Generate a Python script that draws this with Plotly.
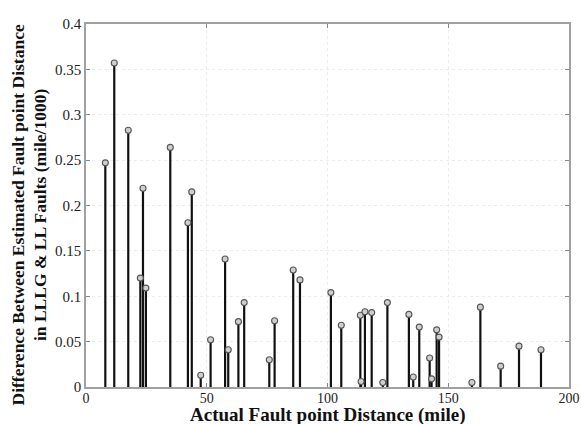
import plotly.graph_objects as go

distance = [8.0, 11.7, 17.5, 22.5, 23.6, 24.8, 34.9, 42.2, 43.8, 47.5, 51.6, 57.6, 58.9,
            63.1, 65.5, 75.9, 78.1, 85.8, 88.6, 101.4, 105.7, 113.6, 113.9, 115.5, 118.3,
            122.9, 124.8, 133.7, 135.5, 138.0, 142.3, 143.1, 145.2, 146.2, 159.8, 163.3,
            171.7, 179.3, 188.4]
difference = [0.247, 0.357, 0.283, 0.120, 0.219, 0.109, 0.264, 0.181, 0.215, 0.013, 0.052,
              0.141, 0.041, 0.072, 0.093, 0.030, 0.073, 0.129, 0.118, 0.104, 0.068, 0.079,
              0.006, 0.083, 0.082, 0.005, 0.093, 0.080, 0.011, 0.066, 0.032, 0.009, 0.063,
              0.055, 0.005, 0.088, 0.023, 0.045, 0.041]

x_ticks = [0, 50, 100, 150, 200]
y_ticks = [0, 0.05, 0.1, 0.15, 0.2, 0.25, 0.3, 0.35, 0.4]
y_tick_labels = ["0", "0.05", "0.1", "0.15", "0.2", "0.25", "0.3", "0.35", "0.4"]
x_title = "Actual Fault point Distance (mile)"
y_title = "Difference Between Estimated Fault point Distance<br>in LLLG &amp; LL Faults (mile/1000)"

sx, sy = [], []
for xv, yv in zip(distance, difference):
    sx += [xv, xv, None]
    sy += [0, yv, None]

fig = go.Figure()
fig.add_trace(go.Scatter(x=sx, y=sy, mode="lines",
                         line=dict(color="#111111", width=2.2), hoverinfo="skip",
                         showlegend=False))
fig.add_trace(go.Scatter(x=distance, y=difference, mode="markers",
                         marker=dict(symbol="circle", size=6, color="#cfcfcf",
                                     line=dict(color="#555555", width=1.1)),
                         showlegend=False))

ff = "Liberation Serif"
fig.update_layout(
    width=581, height=424,
    margin=dict(l=86, r=12, t=24, b=37),
    paper_bgcolor="white", plot_bgcolor="white",
    font=dict(family=ff, size=15, color="#222222"),
    xaxis=dict(range=[0, 200], tickvals=x_ticks, ticks="inside", ticklen=4,
               tickcolor="#888888", showline=True, linecolor="#a0a0a0", linewidth=1.5,
               mirror="ticks", showgrid=True, gridcolor="#ececec", griddash="dot",
               zeroline=False, automargin=False, ticklabelstandoff=-3,
               tickfont=dict(family=ff, size=14, color="#222222")),
    yaxis=dict(range=[0, 0.4], tickvals=y_ticks, ticktext=y_tick_labels, ticks="inside",
               ticklen=4, tickcolor="#888888", showline=True, linecolor="#a0a0a0",
               linewidth=1.5, mirror="ticks", showgrid=True, gridcolor="#ececec",
               griddash="dot", zeroline=False, automargin=False,
               tickfont=dict(family=ff, size=15, color="#222222")),
)
fig.add_annotation(text="<b>" + x_title + "</b>", xref="paper", yref="paper",
                   x=0.5, y=0, xanchor="center", yanchor="middle", yshift=-28,
                   showarrow=False, font=dict(family=ff, size=19, color="#111111"))
fig.add_annotation(text="<b>" + y_title + "</b>", xref="paper", yref="paper",
                   x=0, y=0.5, xanchor="center", yanchor="middle", xshift=-57, yshift=-10,
                   textangle=-90, showarrow=False,
                   font=dict(family=ff, size=17.5, color="#111111"))

fig.write_html("out.html")
